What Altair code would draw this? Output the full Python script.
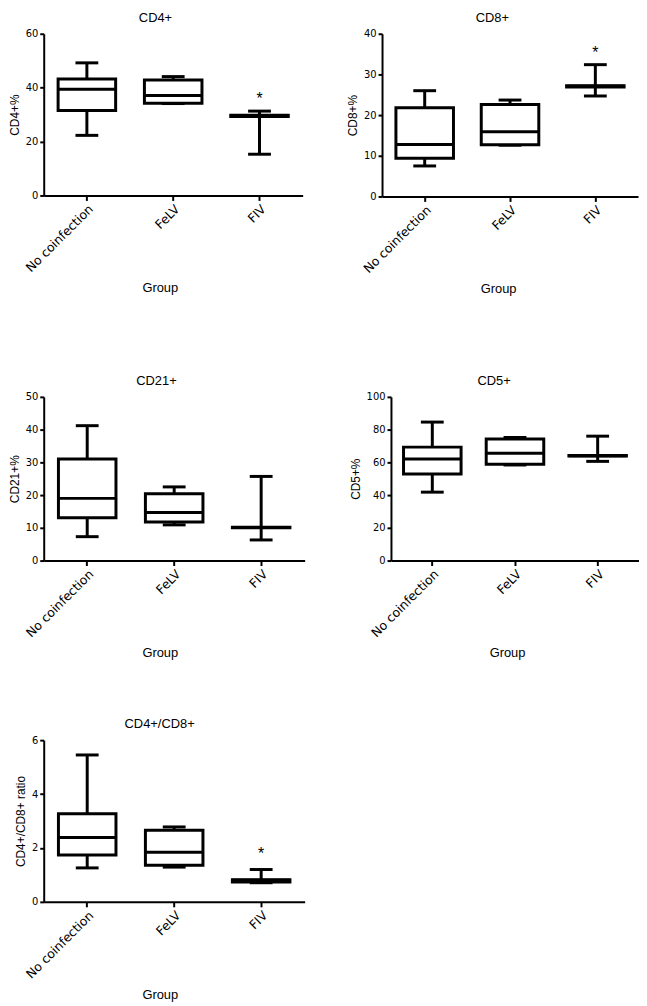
import altair as alt
import pandas as pd

groups = ["No coinfection", "FeLV", "FIV"]

# CD4+
cd4_min = [22.3, 34.1, 15.3]
cd4_q1 = [31.5, 34.2, 29.3]
cd4_med = [39.4, 37.1, 29.6]
cd4_q3 = [43.2, 42.8, 29.8]
cd4_max = [49.2, 44.1, 31.3]
cd4_star = [None, None, 37.0]

# CD8+
cd8_min = [7.5, 12.6, 24.7]
cd8_q1 = [9.4, 12.7, 26.9]
cd8_med = [12.8, 15.9, 27.1]
cd8_q3 = [21.8, 22.6, 27.2]
cd8_max = [26.0, 23.7, 32.4]
cd8_star = [None, None, 36.0]

# CD21+
cd21_min = [7.3, 10.9, 6.3]
cd21_q1 = [13.1, 11.8, 10.0]
cd21_med = [19.0, 14.7, 10.1]
cd21_q3 = [31.0, 20.4, 10.2]
cd21_max = [41.2, 22.5, 25.7]
cd21_star = [None, None, None]

# CD5+
cd5_min = [41.8, 58.4, 60.6]
cd5_q1 = [52.9, 58.8, 63.8]
cd5_med = [62.0, 65.5, 64.0]
cd5_q3 = [69.3, 74.3, 64.2]
cd5_max = [84.6, 75.2, 76.0]
cd5_star = [None, None, None]

# CD4+/CD8+ ratio
ratio_min = [1.26, 1.29, 0.71]
ratio_q1 = [1.74, 1.36, 0.74]
ratio_med = [2.39, 1.84, 0.80]
ratio_q3 = [3.27, 2.66, 0.82]
ratio_max = [5.45, 2.78, 1.20]
ratio_star = [None, None, 1.9]

LABEL_FONT = "DejaVu Sans"
TITLE_FONT = "Liberation Sans"


def panel(title, ytitle, ymax, ystep, mins, q1, med, q3, maxs, star, width, height):
    df = pd.DataFrame({"group": groups, "lo": mins, "q1": q1, "med": med,
                       "q3": q3, "hi": maxs, "star": star})
    xaxis = alt.Axis(title="Group", labelAngle=-45, labelAlign="right", labelBaseline="top",
                     labelFont=LABEL_FONT, labelFontSize=12.5, labelColor="black",
                     labelPadding=2, tickSize=5, tickWidth=2, tickColor="black",
                     domainWidth=2, domainColor="black", grid=False,
                     titleFont=TITLE_FONT, titleFontSize=13, titleFontWeight="normal",
                     titleColor="black", titleX=117, titleY=93, titleBaseline="middle")
    yaxis = alt.Axis(title=ytitle, values=list(range(0, ymax + 1, ystep)),
                     labelFont=LABEL_FONT, labelFontSize=10, labelColor="black",
                     labelPadding=2, tickSize=4, tickWidth=2, tickColor="black",
                     domainWidth=2, domainColor="black", grid=False,
                     titleFont=TITLE_FONT, titleFontSize=12, titleFontWeight="normal",
                     titleColor="black", titlePadding=4)
    x = alt.X("group:N", sort=groups, axis=xaxis,
              scale=alt.Scale(paddingInner=0, paddingOuter=0))
    yscale = alt.Scale(domain=[0, ymax], nice=False, zero=True)

    def Y(f):
        return alt.Y(f + ":Q", scale=yscale, axis=yaxis, title=ytitle)

    base = alt.Chart(df)
    whisker = base.mark_rule(strokeWidth=3, color="black").encode(
        x=x, y=Y("lo"), y2=alt.Y2("hi:Q"))
    cap_lo = base.mark_tick(size=23, thickness=3, color="black", opacity=1).encode(x=x, y=Y("lo"))
    cap_hi = base.mark_tick(size=23, thickness=3, color="black", opacity=1).encode(x=x, y=Y("hi"))
    box = base.mark_bar(size=58, fill="white", stroke="black", strokeWidth=3, opacity=1).encode(
        x=x, y=Y("q1"), y2=alt.Y2("q3:Q"))
    median = base.mark_tick(size=58, thickness=3, color="black", opacity=1).encode(x=x, y=Y("med"))
    stars = base.transform_filter("datum.star != null").mark_text(
        text="*", fontSize=16, font=TITLE_FONT, color="black", baseline="middle", dy=3
    ).encode(x=x, y=Y("star"))
    return alt.layer(whisker, cap_lo, cap_hi, box, median, stars).properties(
        width=width, height=height,
        title=alt.TitleParams(title, font=TITLE_FONT, fontSize=13, fontWeight="normal",
                              color="black", anchor="middle", frame="bounds", offset=4))


p1 = panel("CD4+", "CD4+%", 60, 20, cd4_min, cd4_q1, cd4_med, cd4_q3, cd4_max, cd4_star, 261, 163)
p2 = panel("CD8+", "CD8+%", 40, 10, cd8_min, cd8_q1, cd8_med, cd8_q3, cd8_max, cd8_star, 258, 164)
p3 = panel("CD21+", "CD21+%", 50, 10, cd21_min, cd21_q1, cd21_med, cd21_q3, cd21_max, cd21_star, 263, 165)
p4 = panel("CD5+", "CD5+%", 100, 20, cd5_min, cd5_q1, cd5_med, cd5_q3, cd5_max, cd5_star, 250, 165)
p5 = panel("CD4+/CD8+", "CD4+/CD8+ ratio", 6, 2, ratio_min, ratio_q1, ratio_med, ratio_q3, ratio_max, ratio_star, 263, 163)

row1 = alt.hconcat(p1, p2, spacing=44)
row2 = alt.hconcat(p3, p4, spacing=44)
top = alt.vconcat(row1, row2, spacing=80)
chart = alt.vconcat(top, p5, spacing=59).properties(padding=0).configure_view(stroke=None)

chart.save("out.html", embed_options={"renderer": "svg", "actions": False})
